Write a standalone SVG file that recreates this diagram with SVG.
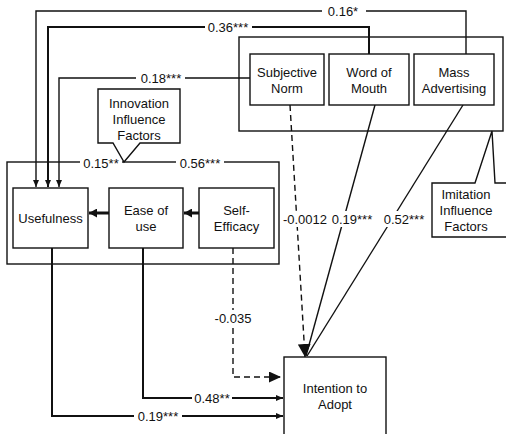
<svg xmlns="http://www.w3.org/2000/svg" width="506" height="434" viewBox="0 0 506 434">
<style>
text{font-family:"Liberation Sans",Arial,sans-serif;font-size:13px;fill:#111;text-anchor:middle}
.box{fill:#fff;stroke:#111;stroke-width:1.4}
.frame{fill:none;stroke:#111;stroke-width:1.4}
.c{fill:none;stroke:#111;stroke-width:1.4}
.t{stroke-width:2}
.k{stroke-width:3}
.d{stroke-dasharray:6 4}
.bg{fill:#fff;stroke:none}
</style>
<defs>
<marker id="sm" markerUnits="userSpaceOnUse" markerWidth="8" markerHeight="6" refX="7" refY="3" orient="auto"><path d="M0,0 L7,3 L0,6 Z" fill="#111"/></marker>
<marker id="th" markerUnits="userSpaceOnUse" markerWidth="9" markerHeight="9" refX="8" refY="4.5" orient="auto"><path d="M0,0 L8,4.5 L0,9 Z" fill="#111"/></marker>
<marker id="bg" markerUnits="userSpaceOnUse" markerWidth="13" markerHeight="11" refX="12" refY="5.5" orient="auto"><path d="M0,0 L12,5.5 L0,11 Z" fill="#111"/></marker>
<marker id="big" markerUnits="userSpaceOnUse" markerWidth="14" markerHeight="13" refX="13" refY="6.5" orient="auto"><path d="M0,0 L13,6.5 L0,13 Z" fill="#111"/></marker>
</defs>

<g id="imitation-frame">
<rect class="frame" x="239" y="37" width="264" height="94"/>
</g>
<g id="innovation-frame">
<rect class="frame" x="7" y="162" width="272" height="102"/>
</g>

<g id="connectors">
<path class="c" d="M466,54 V11 H36 V187" marker-end="url(#sm)"/>
<path class="c t" d="M369,54 V27 H48 V187" marker-end="url(#sm)"/>
<path class="c" d="M250,78 H59 V187" marker-end="url(#sm)"/>
<path class="c k" d="M109,213 H89" marker-end="url(#th)"/>
<path class="c k" d="M199,213 H184" marker-end="url(#th)"/>
<path class="c t" d="M52,248 V416 H283" marker-end="url(#sm)"/>
<path class="c t" d="M143,248 V398 H283" marker-end="url(#sm)"/>
<path class="c d" d="M233,248 V377 H281" marker-end="url(#bg)"/>
<path class="c d" d="M290,105 L305,357" marker-end="url(#big)"/>
<path class="c" d="M375,105 L306,356"/>
<path class="c" d="M463,105 L307,356"/>
<rect class="bg" x="322" y="3" width="44" height="16"/>
<text x="343" y="16">0.16*</text>
<rect class="bg" x="205" y="19" width="47" height="16"/>
<text x="228" y="32">0.36***</text>
<rect class="bg" x="136" y="70" width="49" height="16"/>
<text x="161" y="83">0.18***</text>
<rect class="bg" x="80" y="155" width="42" height="16"/>
<text x="101" y="168">0.15**</text>
<rect class="bg" x="176" y="155" width="48" height="16"/>
<text x="200" y="168">0.56***</text>
<rect class="bg" x="283" y="211" width="45" height="16"/>
<text x="305" y="224">-0.0012</text>
<rect class="bg" x="330" y="211" width="45" height="16"/>
<text x="352" y="224">0.19***</text>
<rect class="bg" x="381" y="211" width="46" height="16"/>
<text x="404" y="224">0.52***</text>
<rect class="bg" x="213" y="310" width="40" height="16"/>
<text x="233" y="323">-0.035</text>
<rect class="bg" x="192" y="390" width="40" height="16"/>
<text x="212" y="403">0.48**</text>
<rect class="bg" x="134" y="408" width="48" height="16"/>
<text x="158" y="421">0.19***</text>
</g>

<g id="innovation-callout">
<path class="box" d="M98,89 H180 V143 H140 L124,162 L113,143 H98 Z"/>
<text x="139" y="108">Innovation</text>
<text x="139" y="124">Influence</text>
<text x="139" y="140">Factors</text>
</g>
<g id="imitation-callout">
<path class="box" d="M432,183 H475 L492,131 L495,183 H510 V237 H432 Z"/>
<text x="466" y="199">Imitation</text>
<text x="466" y="215">Influence</text>
<text x="466" y="231">Factors</text>
</g>

<g id="subjective-norm">
<rect class="box" x="250" y="54" width="74" height="51"/>
<text x="287" y="77">Subjective</text>
<text x="287" y="93">Norm</text>
</g>
<g id="word-of-mouth">
<rect class="box" x="329" y="54" width="80" height="51"/>
<text x="369" y="77">Word of</text>
<text x="369" y="93">Mouth</text>
</g>
<g id="mass-advertising">
<rect class="box" x="414" y="54" width="80" height="51"/>
<text x="454" y="77">Mass</text>
<text x="454" y="93">Advertising</text>
</g>
<g id="usefulness">
<rect class="box" x="13" y="188" width="75" height="60"/>
<text x="50.5" y="223">Usefulness</text>
</g>
<g id="ease-of-use">
<rect class="box" x="109" y="188" width="74" height="60"/>
<text x="146" y="215">Ease of</text>
<text x="146" y="231">use</text>
</g>
<g id="self-efficacy">
<rect class="box" x="199" y="188" width="75" height="60"/>
<text x="236.5" y="215">Self-</text>
<text x="236.5" y="231">Efficacy</text>
</g>
<g id="intention-to-adopt">
<rect class="box" x="284" y="357" width="102" height="84"/>
<text x="335" y="393">Intention to</text>
<text x="335" y="409">Adopt</text>
</g>
</svg>
